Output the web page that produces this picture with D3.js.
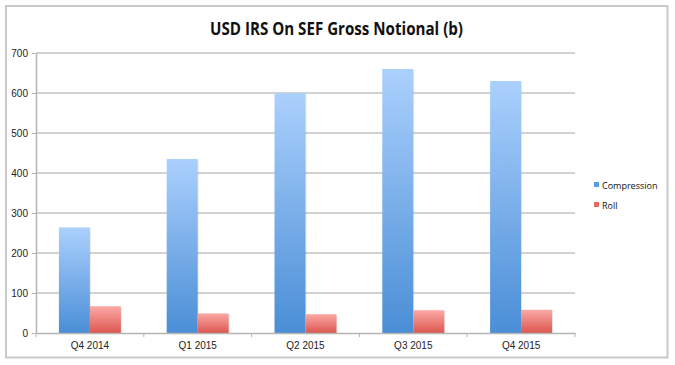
<!DOCTYPE html>
<html><head><meta charset="utf-8">
<script src="https://cdn.jsdelivr.net/npm/d3@7"></script>
<style>body{margin:0;background:#fff;} svg{display:block;font-family:"Open Sans","Liberation Sans",sans-serif;}</style>
</head><body>
<svg id="c" width="675" height="365"></svg>
<script>
const categories = ["Q4 2014","Q1 2015","Q2 2015","Q3 2015","Q4 2015"];
const seriesNames = ["Compression","Roll"];
const compression = [264, 435, 600, 660, 630];
const roll = [67, 49, 47, 57, 58];
const yTicks = [0,100,200,300,400,500,600,700];
const title = "USD IRS On SEF Gross Notional (b)";

const svg = d3.select("#c");
const m = {l:36, r:100, t:53, b:32};
const x0 = d3.scaleBand().domain(categories).range([m.l, 575]).paddingInner(0).paddingOuter(0);
const x1 = d3.scaleBand().domain(seriesNames).range([x0.bandwidth()/2 - 31, x0.bandwidth()/2 + 31]);
const y = d3.scaleLinear().domain([0,700]).range([333, 53]);

const defs = svg.append("defs");
function grad(id, top, bot){
  const g = defs.append("linearGradient").attr("id",id).attr("x1",0).attr("y1",0).attr("x2",0).attr("y2",1);
  g.append("stop").attr("offset","0%").attr("stop-color",top);
  g.append("stop").attr("offset","100%").attr("stop-color",bot);
}
grad("gBlue","#abd0fd","#4a8ed6");
grad("gRed","#fba9a5","#dc5750");
const fills = {Compression:"url(#gBlue)", Roll:"url(#gRed)"};
const legendColors = {Compression:"#5b9be0", Roll:"#e66b64"};

// outer frame
svg.append("rect").attr("x",6).attr("y",6).attr("width",661.5).attr("height",351.5)
  .attr("fill","#fff").attr("stroke","#c9c9c9").attr("stroke-width",2);

// gridlines
svg.append("g").selectAll("line").data(yTicks.filter(d=>d>0)).join("line")
  .attr("x1",m.l).attr("x2",575).attr("y1",d=>y(d)).attr("y2",d=>y(d))
  .attr("stroke","#c3c3c3").attr("stroke-width",1.5);

// y axis
const ya = svg.append("g").attr("transform",`translate(${m.l},0)`)
  .call(d3.axisLeft(y).tickValues(yTicks).tickSize(4).tickSizeOuter(0));
ya.select(".domain").attr("stroke","#b5b5b5").attr("stroke-width",1.5);
ya.selectAll(".tick line").attr("stroke","#b5b5b5");
ya.selectAll("text").attr("font-size",10).attr("fill","#222").attr("x",-8);

// bars
const data = categories.map((c,i)=>({c, vals:[{s:"Compression",v:compression[i]},{s:"Roll",v:roll[i]}]}));
const grp = svg.append("g").selectAll("g").data(data).join("g")
  .attr("transform",d=>`translate(${x0(d.c)},0)`);
grp.selectAll("rect.sh").data(d=>d.vals).join("rect").attr("class","sh")
  .attr("x",d=>x1(d.s)+1).attr("y",d=>y(d.v)+1).attr("width",x1.bandwidth())
  .attr("height",d=>y(0)-y(d.v)).attr("fill","#000").attr("opacity",0.08);
grp.selectAll("rect.b").data(d=>d.vals).join("rect").attr("class","b")
  .attr("x",d=>x1(d.s)).attr("y",d=>y(d.v)).attr("width",x1.bandwidth())
  .attr("height",d=>y(0)-y(d.v)).attr("fill",d=>fills[d.s]);

// x axis
const xa = svg.append("g").attr("transform",`translate(0,${y(0)})`)
  .call(d3.axisBottom(x0).tickSize(0).tickSizeOuter(0));
xa.select(".domain").attr("stroke","#b5b5b5").attr("stroke-width",1.5);
xa.selectAll("text").attr("font-size",10).attr("fill","#222").attr("dy","1.25em");
svg.append("g").selectAll("line").data(d3.range(categories.length+1)).join("line")
  .attr("x1",i=>m.l + i*x0.step()).attr("x2",i=>m.l + i*x0.step())
  .attr("y1",y(0)).attr("y2",y(0)+4).attr("stroke","#b5b5b5").attr("stroke-width",1);

// title
svg.append("text").attr("x",336.5).attr("y",35).attr("text-anchor","middle")
  .attr("font-size",17.5).attr("font-weight","bold").attr("fill","#111")
  .attr("textLength",253).attr("lengthAdjust","spacingAndGlyphs").text(title);

// legend
const lg = svg.append("g").selectAll("g").data(seriesNames).join("g")
  .attr("transform",(d,i)=>`translate(594,${186 + i*20})`);
lg.append("rect").attr("x",0).attr("y",-4).attr("width",5).attr("height",5).attr("fill",d=>legendColors[d]);
lg.append("text").attr("x",8).attr("y",3).attr("font-size",9).attr("fill","#111").text(d=>d);
</script>
</body></html>
